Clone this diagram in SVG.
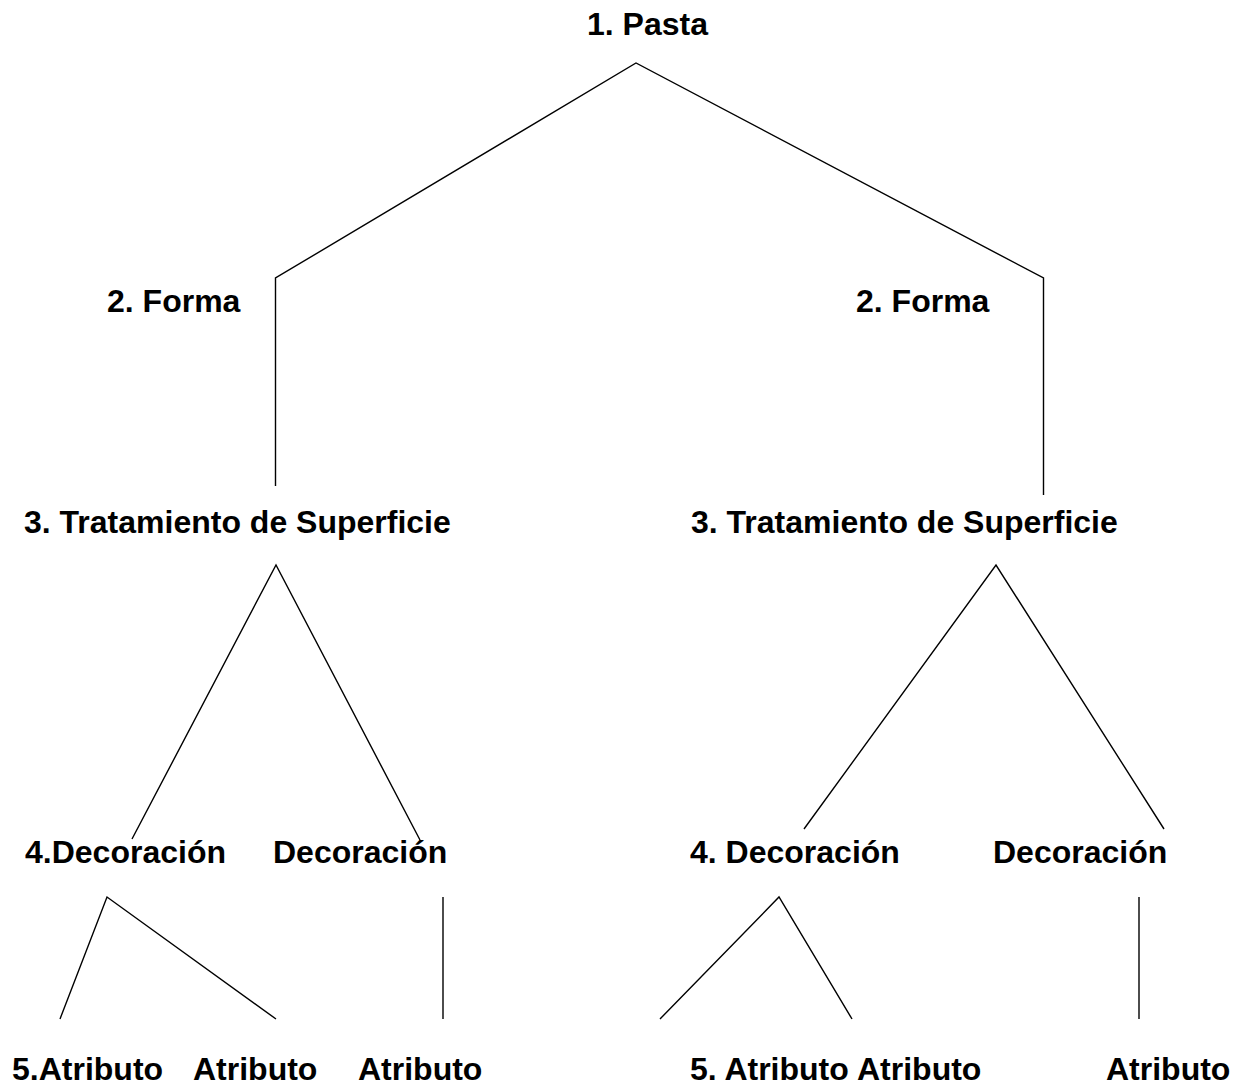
<svg xmlns="http://www.w3.org/2000/svg" width="1238" height="1088" viewBox="0 0 1238 1088">
<style>
text{font-family:"Liberation Sans",Arial,sans-serif;font-weight:bold;font-size:32px;fill:#000}
.c line,.c polyline{stroke:#000;stroke-width:1.4;fill:none}
</style>
<rect width="1238" height="1088" fill="#fff"/>
<g id="connectors" class="c">
<polyline points="275.5,486 275.5,278 636,63 1043.5,278 1043.5,495"/>
<polyline points="132,839 276,565 420,840"/>
<polyline points="804,829 996,565 1164,829"/>
<polyline points="60,1019 107,897 276,1019"/>
<line x1="443" y1="897" x2="443" y2="1019"/>
<polyline points="660,1019 779,897 852,1019"/>
<line x1="1139" y1="897" x2="1139" y2="1019"/>
</g>
<g id="n1"><text x="587" y="35">1. Pasta</text></g>
<g id="n2a"><text x="107" y="312">2. Forma</text></g>
<g id="n2b"><text x="856" y="312">2. Forma</text></g>
<g id="n3a"><text x="24" y="533">3. Tratamiento de Superficie</text></g>
<g id="n3b"><text x="691" y="533">3. Tratamiento de Superficie</text></g>
<g id="n4a"><text x="25" y="863">4.Decoración</text></g>
<g id="n4b"><text x="273" y="863">Decoración</text></g>
<g id="n4c"><text x="690" y="863">4. Decoración</text></g>
<g id="n4d"><text x="993" y="863">Decoración</text></g>
<g id="n5a"><text x="12" y="1080">5.Atributo</text></g>
<g id="n5b"><text x="193" y="1080">Atributo</text></g>
<g id="n5c"><text x="358" y="1080">Atributo</text></g>
<g id="n5d"><text x="690" y="1080">5. Atributo</text></g>
<g id="n5e"><text x="857" y="1080">Atributo</text></g>
<g id="n5f"><text x="1106" y="1080">Atributo</text></g>
</svg>
